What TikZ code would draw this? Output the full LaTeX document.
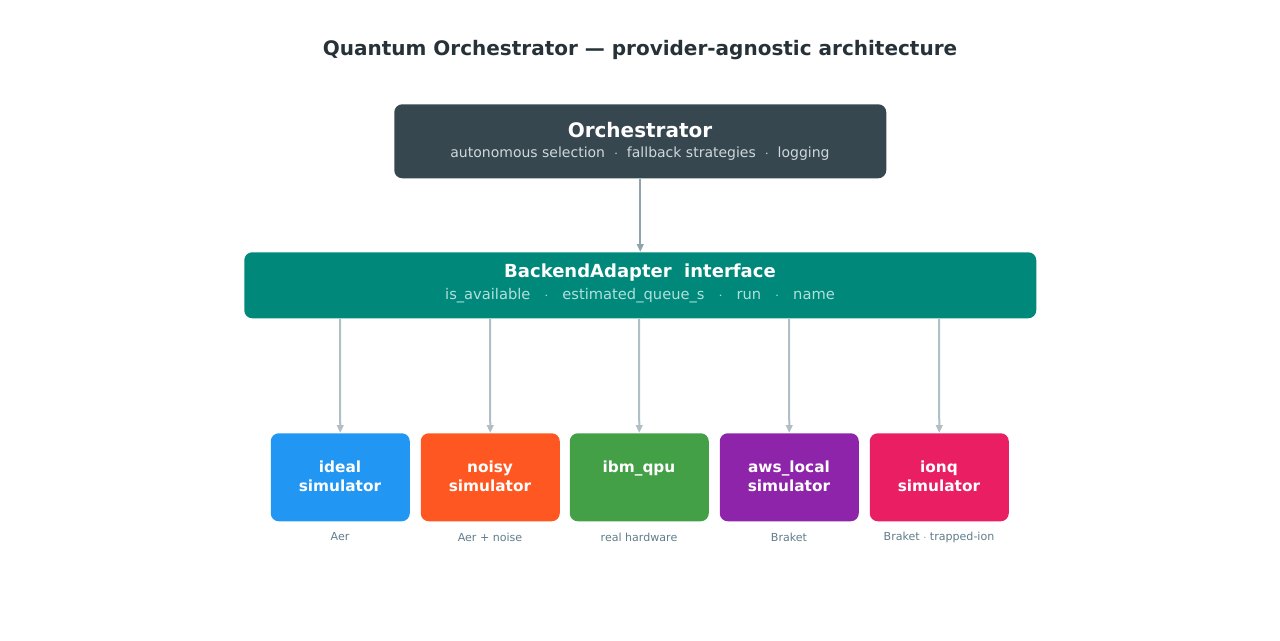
\documentclass[tikz,border=0pt]{standalone}
\usepackage{fontspec}
\setmainfont{DejaVu Sans}
\usetikzlibrary{arrows.meta}
\definecolor{ttl}{HTML}{263238}
\definecolor{orch}{HTML}{37474F}
\definecolor{orchsub}{HTML}{CFD8DC}
\definecolor{adapt}{HTML}{00897B}
\definecolor{adaptsub}{HTML}{B2DFDB}
\definecolor{arA}{HTML}{90A4AE}
\definecolor{arB}{HTML}{B0BEC5}
\definecolor{cap}{HTML}{607D8B}
\definecolor{cA}{HTML}{2196F3}
\definecolor{cB}{HTML}{FF5722}
\definecolor{cC}{HTML}{43A047}
\definecolor{cD}{HTML}{8E24AA}
\definecolor{cE}{HTML}{E91E63}
\begin{document}
\begin{tikzpicture}[x=0.75pt,y=-0.75pt,
  box/.style={rounded corners=6pt,inner sep=0pt,anchor=north west},
  be/.style={box,minimum width=104.25pt,minimum height=66pt},
  betxt/.style={text=white,font=\bfseries\fontsize{11.5}{14}\selectfont,align=center},
  captxt/.style={text=cap,font=\fontsize{8.3}{10}\selectfont},
  arr/.style={draw=arB,line width=1.5pt,-{Triangle[length=6pt,width=5pt]}}]
\useasboundingbox (0,0) rectangle (1280,640);
\node[text=ttl,font=\bfseries\fontsize{15}{18}\selectfont] (title) at (640,50) {Quantum Orchestrator — provider-agnostic architecture};
\node[box,fill=orch,minimum width=369pt,minimum height=55.5pt] (orch) at (394,104) {};
\node[text=white,font=\bfseries\fontsize{15}{18}\selectfont] (ot) at (640,130) {Orchestrator};
\node[text=orchsub,font=\fontsize{10.5}{12}\selectfont] (os) at (640,154) {autonomous selection \ $\cdot$\ \ fallback strategies \ $\cdot$\ \ logging};
\node[box,fill=adapt,minimum width=594pt,minimum height=49.5pt] (adapt) at (244,252) {};
\node[text=white,font=\bfseries\fontsize{13.5}{16}\selectfont] (at) at (640,273) {BackendAdapter\ \ interface};
\node[text=adaptsub,font=\fontsize{11}{13}\selectfont] (as) at (640,296) {is\_available \ \ $\cdot$ \ \ estimated\_queue\_s \ \ $\cdot$ \ \ run \ \ $\cdot$ \ \ name};
\draw[draw=arA,line width=1.8pt,-{Triangle[length=6pt,width=5pt]}] (orch.south) -- (adapt.north);
\foreach \n/\x/\c/\a/\b/\l in {b1/340/cA/ideal/simulator/Aer, b2/490/cB/noisy/simulator/Aer + noise, b3/639/cC/ibm\_qpu//real hardware, b4/789/cD/aws\_local/simulator/Braket, b5/939/cE/ionq/simulator/Braket $\cdot$ trapped-ion}{
  \node[be,fill=\c] (\n) at (\x-69.5,433) {};
  \node[betxt,anchor=north] (\n t) at (\x,456) {\a\\\b};
  \node[captxt] (\n c) at (\x,537) {\l};
  \coordinate (\n s) at (\x,319);
  \draw[arr] (\n s) -- (\n.north);
}
\end{tikzpicture}
\end{document}
